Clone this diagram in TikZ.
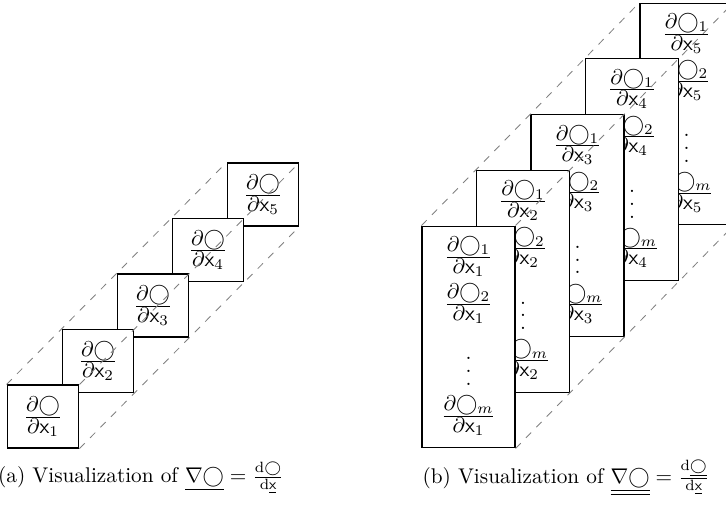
\documentclass[tikz,border=0pt]{standalone}
\usepackage{amsmath,amssymb}
\usetikzlibrary{positioning,calc}
\tikzset{
  cellA/.style={draw,fill=white,line width=0.5pt,minimum width=33.8pt,minimum height=29.6pt,inner sep=0pt},
  cellB/.style={draw,fill=white,line width=0.5pt,minimum width=43.7pt,minimum height=104.3pt,inner sep=0pt},
  entry/.style={inner sep=0pt},
  guide/.style={gray,dash pattern=on 3.5pt off 3.5pt},
  caption/.style={inner sep=0pt},
}
\newcommand{\pdx}[2]{\frac{\textstyle\partial\bigcirc#1}{\textstyle\partial\mathsf{x}_{#2}}}
\newcommand{\tallvdots}{\vbox{\baselineskip6pt\lineskiplimit0pt\hbox{.}\hbox{.}\hbox{.}}}

\begin{document}
\begin{tikzpicture}[x=0.47pt,y=-0.47pt]
  \useasboundingbox (0,0) rectangle (726,507);
  \clip (0,0) rectangle (726,507);
  % (a) one column per input
  \foreach \k in {5,4,3,2,1}{
    \node[cellA] (a\k) at ({43+55*(\k-1)},{416.5-55.5*(\k-1)}) {$\pdx{}{\k}$};
  }
  \draw[guide] (a1.north west) -- (a5.north west);
  \draw[guide] (a1.north east) -- (a5.north east);
  \draw[guide] (a1.south east) -- (a5.south east);
  \node[caption] (capa) at (141,478)
    {(a) Visualization of $\underline{\nabla\bigcirc}=\frac{\mathrm{d}\bigcirc}{\mathrm{d}\underline{\mathsf{x}}}$};
  % (b) one tall column per input
  \foreach \k in {5,4,3,2,1}{
    \node[cellB] (b\k) at ({468.5+54.5*(\k-1)},{337-55.75*(\k-1)}) {};
    \node[entry] (b\k o1) at ($(b\k.north)+(0,31)$) {$\pdx{_1}{\k}$};
    \node[entry] (b\k o2) at ($(b\k.north)+(0,78)$) {$\pdx{_2}{\k}$};
    \node[entry] (b\k dots) at ($(b\k.north)+(0,146)$) {\tallvdots};
    \node[entry] (b\k om) at ($(b\k.north)+(0,190)$) {$\pdx{_m}{\k}$};
  }
  \draw[guide] (b1.north west) -- (b5.north west);
  \draw[guide] (b1.north east) -- (b5.north east);
  \draw[guide] (b1.south east) -- (b5.south east);
  \node[caption] (capb) at (566,478)
    {(b) Visualization of $\underline{\underline{\nabla\bigcirc}}=\frac{\mathrm{d}\underline{\bigcirc}}{\mathrm{d}\underline{\mathsf{x}}}$};
\end{tikzpicture}
\end{document}
